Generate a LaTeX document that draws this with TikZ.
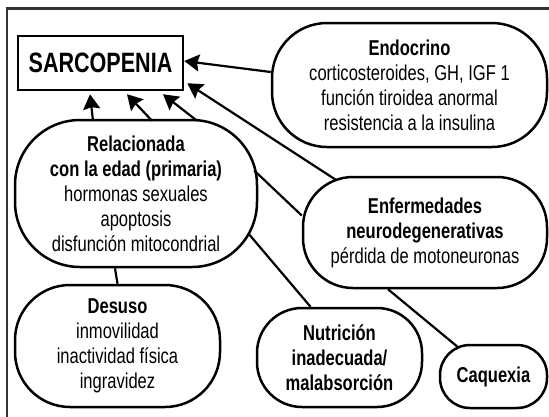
\documentclass[tikz,border=0pt]{standalone}
\usepackage{fontspec}
\setmainfont[FakeStretch=0.77]{Liberation Sans}
\usetikzlibrary{arrows.meta}
\tikzset{cause/.style={draw, line width=2.5pt, rounded corners=#1, align=center, inner sep=0pt, font=\fontsize{21.5}{25}\selectfont}}
\tikzset{arr/.style={line width=2.2pt, -{Stealth[length=15pt,width=17pt,inset=2pt]}}}
\tikzset{link/.style={line width=2.2pt}}

\begin{document}
\begin{tikzpicture}[x=1pt,y=-1pt]
\useasboundingbox[fill=white] (0,0) rectangle (549,416);
\begin{scope}
\clip (0,0) rectangle (549,416);
\draw[line width=2.2pt, black!80] (7,8.5) rectangle (560,430);
\end{scope}

\node[draw, line width=2.5pt, minimum width=165pt, minimum height=54pt, inner sep=0pt, font=\fontsize{28}{28}\selectfont\bfseries] (S) at (100.5,63) {SARCOPENIA};
\node[cause=55pt, minimum width=275pt, minimum height=124pt] (En) at (409.5,85) {\textbf{Endocrino}\\corticosteroides, GH, IGF 1\\función tiroidea anormal\\resistencia a la insulina};
\node[cause=65pt, minimum width=242pt, minimum height=147pt] (Ed) at (136,193.5) {\textbf{Relacionada}\\\textbf{con la edad (primaria)}\\hormonas sexuales\\apoptosis\\disfunción mitocondrial};
\node[cause=50pt, minimum width=244pt, minimum height=111pt] (Nd) at (425,232.5) {\textbf{Enfermedades}\\\textbf{neurodegenerativas}\\pérdida de motoneuronas};
\node[cause=55pt, minimum width=205pt, minimum height=122pt] (De) at (117.5,346) {\textbf{Desuso}\\inmovilidad\\inactividad física\\ingravidez};
\node[cause=45pt, minimum width=165pt, minimum height=99pt] (Nu) at (339.5,357.5) {\textbf{Nutrición}\\\textbf{inadecuada/}\\\textbf{malabsorción}};
\node[cause=30pt, minimum width=107pt, minimum height=63pt] (Ca) at (493.5,376.5) {\textbf{Caquexia}};

\draw[arr] ([yshift=13pt]En.west) -- ([yshift=2pt]S.east);
\draw[arr] ([xshift=34pt,yshift=-4pt]Nd.north west) -- ([xshift=3pt,yshift=8pt]S.south east);
\draw[arr] ([xshift=-43pt,yshift=-2pt]Ed.north) -- ([xshift=-10.5pt,yshift=-3pt]S.south);
\draw[arr] ([xshift=16pt,yshift=-2pt]Ed.north) -- ([xshift=26.5pt,yshift=-3pt]S.south);
\draw[arr] ([xshift=61pt,yshift=-2pt]Ed.north) -- ([xshift=62.5pt,yshift=-3pt]S.south);
\draw[link] ([xshift=-4pt,yshift=23pt]Ed.east) -- ([yshift=17pt]Nd.west);
\draw[link] ([xshift=-9pt,yshift=-41pt]Ed.east) -- ([xshift=-29pt]Nu.north);
\draw[link] ([xshift=-37pt]Nd.south) -- ([xshift=-36pt,yshift=-3pt]Ca.north);
\draw[link] ([xshift=-21pt]Ed.south) -- (De.north);
\end{tikzpicture}
\end{document}
